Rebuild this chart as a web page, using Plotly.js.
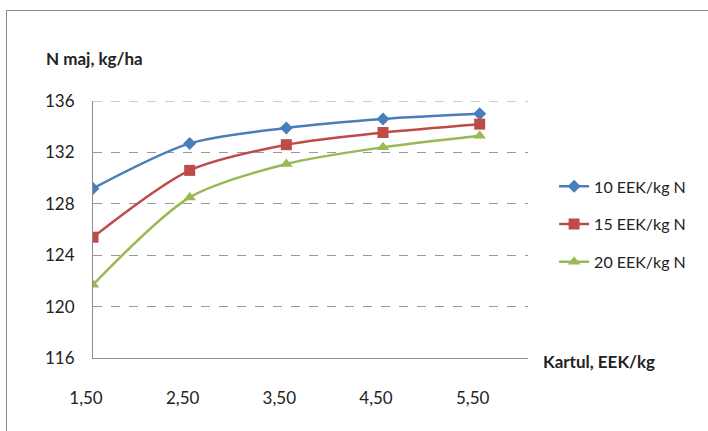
<!DOCTYPE html>
<html>
<head>
<meta charset="utf-8">
<script src="https://cdn.plot.ly/plotly-3.0.1.min.js"></script>
<style>
  html, body { margin: 0; padding: 0; background: #fff; }
  #wrap { position: relative; width: 708px; height: 431px; overflow: hidden; }
  #chart { position: absolute; left: 0; top: 0; width: 708px; height: 431px; }
  #frame { position: absolute; left: 6px; top: 10px; width: 760px; height: 480px;
           border: 1px solid #8c8c8c; pointer-events: none; }
</style>
</head>
<body>
<div id="wrap">
  <div id="chart"></div>
  <div id="frame"></div>
</div>
<script>
// Potato price (EEK/kg) on the x axis
const potatoPrice = [1.5, 2.5, 3.5, 4.5, 5.5];
const priceLabels = ['1,50', '2,50', '3,50', '4,50', '5,50'];

// Optimal nitrogen rate (kg/ha) for three nitrogen prices
const n10 = [129.2, 132.7, 133.9, 134.6, 135.0];
const n15 = [125.4, 130.6, 132.6, 133.55, 134.2];
const n20 = [121.7, 128.5, 131.1, 132.4, 133.3];

const seriesNames = ['10 EEK/kg N', '15 EEK/kg N', '20 EEK/kg N'];
const yTicks = [116, 120, 124, 128, 132, 136];
const yMax = 136;

const font = 'Lato, "Open Sans", sans-serif';
const gridColor = '#9a9a9a';

function series(y, name, color, symbol, size, group) {
  return {
    x: potatoPrice, y: y, name: name, type: 'scatter', mode: 'lines+markers',
    legendgroup: group,
    line: { color: color, width: 2.5, shape: 'spline', smoothing: 0.8 },
    marker: { color: color, symbol: symbol, size: size }
  };
}

const data = [
  series(n10, seriesNames[0], '#4A7EBB', 'diamond', 10, 'a'),
  series(n15, seriesNames[1], '#BE4B48', 'square', 11, 'b'),
  series(n20, seriesNames[2], '#98B954', 'triangle-up', 11, 'c')
];

const layout = {
  width: 708, height: 431,
  margin: { l: 93, r: 180, t: 101, b: 73 },
  paper_bgcolor: '#fff', plot_bgcolor: '#fff',
  font: { family: font, size: 17, color: '#222' },
  showlegend: true,
  legend: {
    x: 1.06, y: 0.52, xanchor: 'left', yanchor: 'middle',
    traceorder: 'grouped', tracegroupgap: 14,
    font: { family: font, size: 16, color: '#222' }
  },
  xaxis: {
    range: [1.5, 6.0], tickvals: potatoPrice, ticktext: priceLabels,
    showgrid: false, zeroline: false,
    showline: true, linecolor: '#8c8c8c', linewidth: 1,
    ticks: '', ticklabelstandoff: 25, ticklabelshift: -7,
    tickfont: { family: font, size: 17, color: '#222' }
  },
  yaxis: {
    range: [116, yMax], tickvals: yTicks,
    showgrid: true, gridcolor: gridColor, griddash: 'dash', gridwidth: 1,
    zeroline: false,
    showline: true, linecolor: '#8c8c8c', linewidth: 1,
    ticks: '', ticklabelstandoff: 14,
    tickfont: { family: font, size: 17, color: '#222' }
  },
  // top gridline at the upper edge of the value range
  shapes: [
    { type: 'line', layer: 'below', xref: 'paper', yref: 'y',
      x0: 0, x1: 1, y0: yMax, y1: yMax,
      line: { color: gridColor, width: 1, dash: 'dash' } }
  ],
  annotations: [
    { text: '<b>N maj, kg/ha</b>', xref: 'paper', yref: 'paper',
      x: -0.113, y: 1.0, xanchor: 'left', yanchor: 'bottom', yshift: 30,
      showarrow: false, font: { family: font, size: 17, color: '#222' } },
    { text: '<b>Kartul, EEK/kg</b>', xref: 'paper', yref: 'paper',
      x: 1.0, y: 0, xanchor: 'left', yanchor: 'middle', xshift: 13, yshift: -3,
      showarrow: false, font: { family: font, size: 17, color: '#222' } }
  ]
};

Plotly.newPlot('chart', data, layout, { staticPlot: true, displayModeBar: false });
</script>
</body>
</html>
